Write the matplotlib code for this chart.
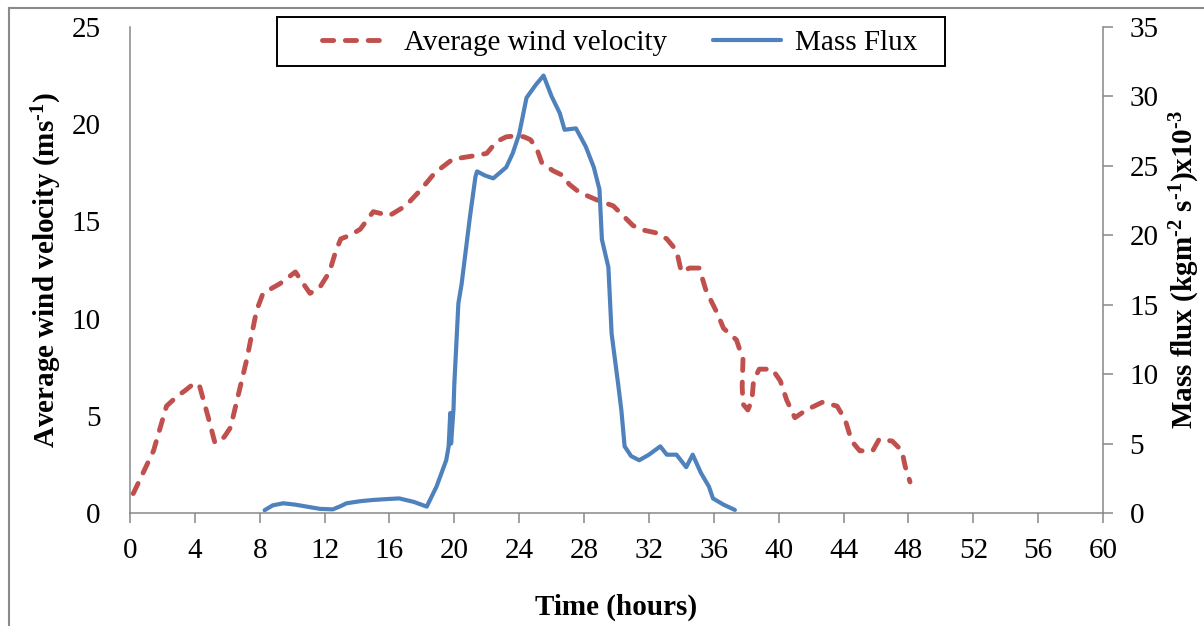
import matplotlib
matplotlib.use("Agg")
import matplotlib.pyplot as plt
from matplotlib.lines import Line2D
from matplotlib.patches import Rectangle

plt.rcParams['font.family'] = ['Liberation Serif', 'DejaVu Serif']
plt.rcParams['mathtext.fontset'] = 'custom'
plt.rcParams['mathtext.rm'] = 'Liberation Serif:bold'
plt.rcParams['mathtext.bf'] = 'Liberation Serif:bold'
plt.rcParams['mathtext.default'] = 'bf'

# Average wind velocity (m/s) against time (hours)
wind_time = [0.2, 0.6, 1.45, 2.25, 2.9, 3.4, 4.0, 4.3, 4.8, 5.24, 5.8, 6.2, 6.8, 7.2,
             7.8, 8.2, 9.25, 10.2, 10.6, 11.1, 11.7, 12.3, 12.7, 13.0, 13.6, 14.2,
             15.0, 16.0, 17.0, 17.9, 18.8, 19.9, 21.4, 22.0, 22.6, 23.2, 23.8, 24.3,
             24.7, 25.1, 25.4, 26.1, 26.6, 27.1, 27.7, 28.8, 29.8, 30.4, 31.0, 31.4,
             32.5, 33.1, 33.7, 34.0, 34.5, 35.1, 35.5, 35.9, 36.2, 36.6, 37.0, 37.4,
             37.8, 37.75, 37.8, 38.1, 38.35, 38.45, 38.8, 39.6, 40.1, 40.5, 41.0,
             41.7, 42.7, 43.6, 44.1, 44.5, 45.0, 45.8, 46.2, 47.0, 47.6, 47.8, 48.1]
wind_speed = [1.0, 1.7, 3.2, 5.5, 6.0, 6.3, 6.7, 6.5, 5.0, 3.6, 3.9, 4.4, 6.5, 7.9,
              10.4, 11.3, 11.8, 12.4, 11.9, 11.3, 11.6, 12.4, 13.5, 14.1, 14.3, 14.6,
              15.5, 15.3, 15.8, 16.6, 17.5, 18.2, 18.4, 18.5, 19.1, 19.35, 19.4, 19.35,
              19.2, 18.7, 18.0, 17.6, 17.4, 16.9, 16.5, 16.1, 15.8, 15.3, 14.8, 14.6,
              14.4, 14.1, 13.5, 12.4, 12.6, 12.6, 11.5, 10.8, 10.3, 9.5, 9.2, 8.9,
              7.9, 6.5, 5.6, 5.3, 5.8, 6.8, 7.4, 7.4, 6.8, 5.8, 4.9,
              5.3, 5.7, 5.5, 4.8, 3.7, 3.2, 3.2, 3.8, 3.7, 3.2, 2.4, 1.6]

# Mass flux (kg m^-2 s^-1 x10^-3) against time (hours)
flux_time = [8.3, 8.8, 9.45, 10.2, 10.9, 11.7, 12.5, 13.0, 13.35, 14.2, 15.0, 15.8,
             16.6, 17.5, 18.3, 18.9, 19.5, 19.65, 19.75, 19.8, 19.95, 20.0, 20.25,
             20.45, 20.96, 21.3, 21.4, 21.9, 22.4, 23.2, 23.6, 24.0, 24.45, 25.0,
             25.5, 26.0, 26.5, 26.8, 27.5, 28.1, 28.6, 28.95, 29.1, 29.5, 29.7, 30.1,
             30.3, 30.5, 30.9, 31.4, 32.0, 32.7, 33.1, 33.7, 34.3, 34.7, 35.2, 35.7,
             35.95, 36.6, 37.3]
flux = [0.2, 0.55, 0.7, 0.6, 0.46, 0.3, 0.26, 0.5, 0.7, 0.85, 0.94, 1.0,
        1.05, 0.8, 0.46, 1.9, 3.8, 4.8, 7.2, 5.0, 7.5, 9.3, 15.1,
        16.5, 21.3, 24.2, 24.6, 24.3, 24.1, 24.9, 25.9, 27.3, 29.9, 30.8,
        31.5, 30.0, 28.8, 27.6, 27.7, 26.4, 24.9, 23.3, 19.7, 17.7, 12.9, 9.3,
        7.4, 4.8, 4.1, 3.8, 4.2, 4.8, 4.2, 4.2, 3.3, 4.2, 2.9, 1.9,
        1.05, 0.6, 0.22]

x_ticks = list(range(0, 61, 4))
left_ticks = list(range(0, 26, 5))
right_ticks = list(range(0, 36, 5))

red = '#C0504D'
blue = '#4F81BD'
spine_gray = '#888888'
fs = 21
W, H = 1204, 626

fig = plt.figure(figsize=(W / 100, H / 100), dpi=100)
ax = fig.add_axes([130 / W, 1 - 513 / H, 973 / W, 486 / H])
ax2 = ax.twinx()

ax.plot(wind_time, wind_speed, color=red, lw=3.5, dashes=(2.3, 2.4),
        dash_capstyle='round', dash_joinstyle='round', zorder=3)
ax2.plot(flux_time, flux, color=blue, lw=3.0, solid_capstyle='round',
         solid_joinstyle='round', zorder=3)

ax.set_xlim(0, 60)
ax.set_ylim(0, 25)
ax2.set_ylim(0, 35)
ax.set_xticks(x_ticks)
ax.set_yticks(left_ticks)
ax2.set_yticks(right_ticks)

for a in (ax, ax2):
    a.spines['top'].set_visible(False)
    for s in ('left', 'right', 'bottom'):
        a.spines[s].set_color(spine_gray)
        a.spines[s].set_linewidth(1.1)
ax.spines['right'].set_visible(False)
ax2.spines['left'].set_visible(False)
ax2.spines['bottom'].set_visible(False)

ax.tick_params(axis='x', length=7, width=1.1, color=spine_gray, pad=11, labelsize=fs)
ax.tick_params(axis='y', length=0, pad=21, labelsize=fs)
ax2.tick_params(axis='y', length=7, width=1.1, color=spine_gray, pad=12, labelsize=fs)

ax.set_xlabel('Time (hours)', fontsize=fs, fontweight='bold')
ax.xaxis.set_label_coords(0.5, -0.165)
ax.set_ylabel(r'Average wind velocity (ms$^{\text{-}1}$)', fontsize=fs, fontweight='bold')
ax.yaxis.set_label_coords(-0.068, 0.5)
ax2.set_ylabel(r'Mass flux (kgm$^{\text{-}2}$ s$^{\text{-}1}$)x10$^{\text{-}3}$',
               fontsize=fs, fontweight='bold')
ax2.yaxis.set_label_coords(1.067, 0.5)

# legend entries without frame; the box is drawn separately
handles = [Line2D([], [], color=red, lw=3.5, dashes=(2.3, 2.4), dash_capstyle='round'),
           Line2D([], [], color=blue, lw=3.0, solid_capstyle='round')]
leg = fig.legend(handles, ['Average wind velocity', 'Mass Flux'], ncol=2,
                 loc='center left', bbox_to_anchor=(322 / W, 1 - 43 / H),
                 fontsize=fs, frameon=False, handlelength=2.3,
                 handletextpad=0.5, columnspacing=1.6, borderpad=0, borderaxespad=0)
fig.add_artist(Rectangle((277 / W, 1 - 66 / H), 668 / W, 49 / H,
                         transform=fig.transFigure, fill=False,
                         edgecolor='black', lw=1.4, zorder=5))

# outer chart frame (left and top edges)
frame_kw = dict(transform=fig.transFigure, color='#8a8a8a', lw=1.5, zorder=10,
                clip_on=False)
fig.add_artist(Line2D([8.5 / W, 8.5 / W], [0, 1 - 7.5 / H], **frame_kw))
fig.add_artist(Line2D([8.5 / W, 1], [1 - 7.5 / H, 1 - 7.5 / H], **frame_kw))

fig.savefig('out.png', dpi=100)
